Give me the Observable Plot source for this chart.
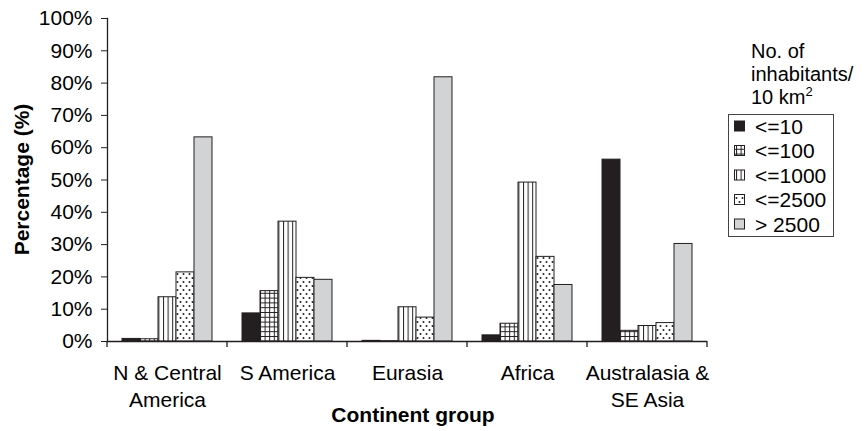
<!DOCTYPE html>
<html>
<head>
<meta charset="utf-8">
<script src="https://cdn.jsdelivr.net/npm/d3@7"></script>
<script src="https://cdn.jsdelivr.net/npm/@observablehq/plot@0.6"></script>
<style>
  body { margin: 0; background: #fff; }
  #chart { position: relative; width: 868px; height: 431px; }
  svg text { font-family: "Liberation Sans", Arial, Helvetica, sans-serif; }
</style>
</head>
<body>
<svg width="0" height="0" style="position:absolute">
  <defs>
    <pattern id="pGrid" patternUnits="userSpaceOnUse" width="4.6" height="4.8">
      <rect width="4.6" height="4.8" fill="#fff"/>
      <path d="M0.5,0V4.8M0,0.5H4.6" stroke="#231f20" stroke-width="1"/>
    </pattern>
    <pattern id="pVert" patternUnits="userSpaceOnUse" width="4.6" height="4">
      <rect width="4.6" height="4" fill="#fff"/>
      <path d="M0.5,0V4" stroke="#231f20" stroke-width="1"/>
    </pattern>
    <pattern id="pDots" patternUnits="userSpaceOnUse" width="6" height="8">
      <rect width="6" height="8" fill="#fff"/>
      <circle cx="1.5" cy="2" r="1" fill="#231f20"/>
      <circle cx="4.5" cy="6" r="1" fill="#231f20"/>
    </pattern>
  </defs>
</svg>
<div id="chart"></div>
<script>
// ---- data ----
const continents = ["N & Central America", "S America", "Eurasia", "Africa", "Australasia & SE Asia"];
const continentLabels = ["N & Central\nAmerica", "S America", "Eurasia", "Africa", "Australasia &\nSE Asia"];
const densityClasses = ["<=10", "<=100", "<=1000", "<=2500", "> 2500"];
const valuesLe10   = [0.8, 8.7, 0.2, 1.9, 56.3];
const valuesLe100  = [0.7, 15.6, 0.1, 5.5, 3.3];
const valuesLe1000 = [13.7, 37.1, 10.6, 49.2, 4.8];
const valuesLe2500 = [21.4, 19.7, 7.4, 26.2, 5.7];
const valuesGt2500 = [63.2, 19.1, 81.8, 17.5, 30.2];
const yTicks = [0, 10, 20, 30, 40, 50, 60, 70, 80, 90, 100];
const legendTitle = ["No. of", "inhabitants/", "10 km"];

const classFills = ["#231f20", "url(#pGrid)", "url(#pVert)", "url(#pDots)", "#d1d3d4"];

const seriesValues = [valuesLe10, valuesLe100, valuesLe1000, valuesLe2500, valuesGt2500];
const rows = [];
continents.forEach((c, i) => {
  densityClasses.forEach((k, j) => {
    rows.push({continent: c, cls: k, value: seriesValues[j][i]});
  });
});
const labelOf = new Map(continents.map((c, i) => [c, continentLabels[i]]));

const FONT = "Liberation Sans, Arial, Helvetica, sans-serif";
const INK = "#231f20";

const chart = Plot.plot({
  width: 868,
  height: 431,
  marginLeft: 105,
  marginRight: 159,
  marginTop: 18,
  marginBottom: 90,
  style: {fontFamily: FONT, fontSize: "21px", color: "#000", background: "#fff"},
  fx: {domain: continents, padding: 0, label: null, axis: null},
  x: {domain: densityClasses, paddingInner: 0, paddingOuter: 0.71, axis: null},
  y: {domain: [0, 100], axis: null},
  color: {domain: densityClasses, range: classFills},
  marks: [
    Plot.barY(rows, {fx: "continent", x: "cls", y: "value", fill: "cls", stroke: INK, strokeWidth: 1}),
    Plot.ruleY([0], {stroke: INK, strokeWidth: 1.3}),
    Plot.frame({anchor: "left", facetAnchor: "left", stroke: INK, strokeWidth: 1.3}),
    Plot.axisY(yTicks, {anchor: "left", tickSize: 6, tickPadding: 9, tickFormat: d => d + "%", fontSize: 21, stroke: INK, fill: "#000", label: null}),
    Plot.axisFx({anchor: "bottom", tickSize: 0, tickPadding: 19, lineHeight: 1.3, tickFormat: c => labelOf.get(c), fontSize: 21, fill: "#000", label: null})
  ]
});

document.getElementById("chart").appendChild(chart);

// ---- extras: group boundary ticks, titles, legend ----
const svg = d3.select(chart);
const fxS = chart.scale("fx");
const yS = chart.scale("y");
const y0 = yS.apply(0);
const bounds = continents.map(c => fxS.apply(c)).concat([fxS.apply(continents[continents.length - 1]) + fxS.bandwidth]);
svg.append("g").selectAll("line").data(bounds).join("line")
  .attr("x1", d => d).attr("x2", d => d)
  .attr("y1", y0).attr("y2", y0 + 6)
  .attr("stroke", INK).attr("stroke-width", 1.3);

svg.append("text")
  .attr("x", 413).attr("y", 422)
  .attr("text-anchor", "middle")
  .attr("font-weight", "bold").attr("font-size", 21).attr("fill", "#000")
  .text("Continent group");

svg.append("text")
  .attr("transform", `translate(29,${(yS.apply(0) + yS.apply(100)) / 2}) rotate(-90)`)
  .attr("text-anchor", "middle")
  .attr("font-weight", "bold").attr("font-size", 21).attr("fill", "#000")
  .text("Percentage (%)");

const lg = svg.append("g").attr("text-anchor", "start");
legendTitle.forEach((t, i) => {
  const tx = lg.append("text")
    .attr("x", 751).attr("y", 58 + i * 23)
    .attr("text-anchor", "start")
    .attr("font-size", 20).attr("fill", "#000")
    .text(t);
  if (i === legendTitle.length - 1) {
    tx.append("tspan").attr("dy", -8).attr("font-size", 13).text("2");
  }
});
lg.append("rect")
  .attr("x", 728.5).attr("y", 114.5).attr("width", 105).attr("height", 122)
  .attr("fill", "none").attr("stroke", "#444").attr("stroke-width", 1);
const colorS = chart.scale("color");
densityClasses.forEach((k, i) => {
  const by = 133.5 + i * 24.5;
  lg.append("rect")
    .attr("x", 734.5).attr("y", by - 12.5).attr("width", 10).attr("height", 10)
    .attr("fill", colorS.apply(k)).attr("stroke", INK).attr("stroke-width", 1);
  lg.append("text")
    .attr("x", 755).attr("y", by)
    .attr("text-anchor", "start")
    .attr("font-size", 21).attr("fill", "#000")
    .text(k);
});
</script>
</body>
</html>
